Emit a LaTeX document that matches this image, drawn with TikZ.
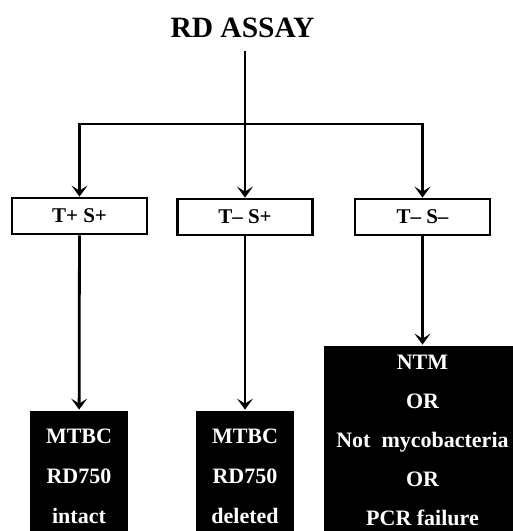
\documentclass[tikz,border=0pt]{standalone}
\usepackage{fontspec}
\setmainfont{Liberation Serif}
\usetikzlibrary{arrows.meta}

\begin{document}
\begin{tikzpicture}[x=1pt, y=-1pt, line width=2.8pt,
  test/.style={draw, minimum width=135pt, minimum height=36pt, inner sep=0pt,
    font=\fontsize{21}{24}\selectfont\bfseries},
  result/.style={fill=black, text=white, align=center, inner sep=0pt,
    font=\fontsize{22}{40}\selectfont\bfseries},
  flow/.style={-{Stealth[length=11pt,width=16pt,inset=5pt]}}]
  \useasboundingbox (0,0) rectangle (513,531);
  \node[inner sep=12pt] (title) at (242.5,28) {\fontsize{29.5}{34}\selectfont\bfseries RD ASSAY};
  \coordinate (fork) at (245,124);
  % tests
  \node[test] (tpsp) at (79.5,216) {T+ S+};
  \node[test] (tmsp) at (245,217) {T\textendash\ S+};
  \node[test] (tmsm) at (422.5,217) {T\textendash\ S\textendash};
  % results
  \node[result, minimum width=98pt, minimum height=131pt] (intact) at (79,476.5)
    {MTBC\\RD750\\intact};
  \node[result, minimum width=98pt, minimum height=131pt] (deleted) at (245,476.5)
    {MTBC\\RD750\\deleted};
  \node[result, minimum width=197pt, minimum height=189pt,
    font=\fontsize{22}{38.8}\selectfont\bfseries] (ntm) at (422.5,440.5)
    {NTM\\OR\\Not\ \ mycobacteria\\OR\\PCR failure};
  \draw (title.south -| fork) -- (fork);
  \draw[flow] (fork) -| (tpsp);
  \draw[flow] (fork) -- (tmsp);
  \draw[flow] (fork) -| (tmsm);
  \path[flow]
    (tpsp) edge (intact)
    (tmsp) edge (deleted)
    (tmsm) edge (ntm);
\end{tikzpicture}
\end{document}
